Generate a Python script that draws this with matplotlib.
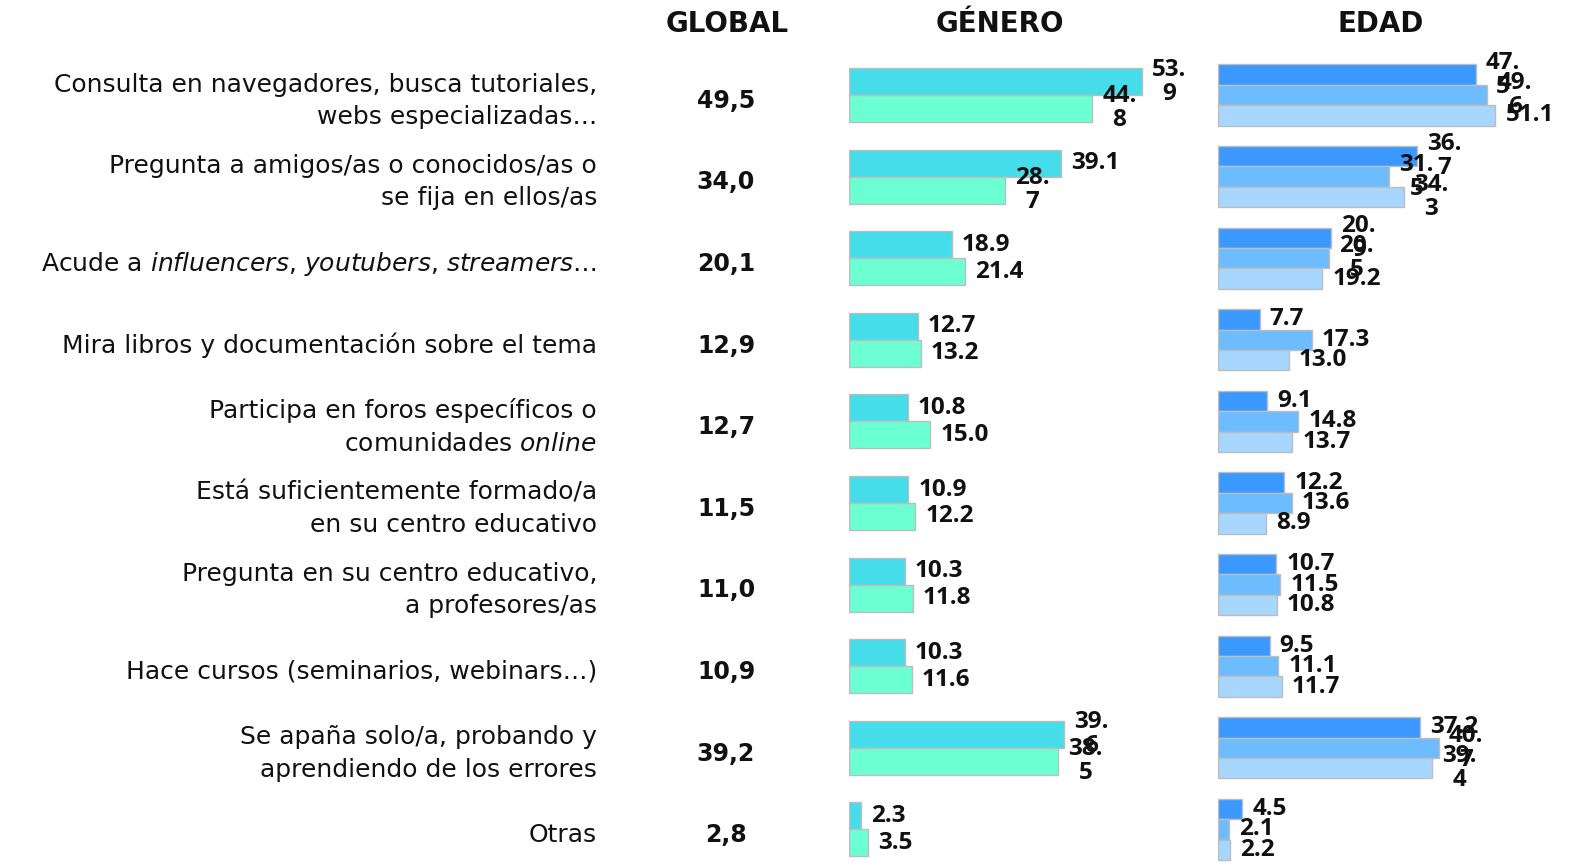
import matplotlib
matplotlib.use("Agg")
import matplotlib.pyplot as plt

plt.rcParams['font.family'] = ['DejaVu Sans']
plt.rcParams['mathtext.fontset'] = 'custom'
plt.rcParams['mathtext.rm'] = 'DejaVu Sans'
plt.rcParams['mathtext.it'] = 'DejaVu Sans:italic'

# Datos
categorias = [
    "Consulta en navegadores, busca tutoriales,\nwebs especializadas…",
    "Pregunta a amigos/as o conocidos/as o\nse fija en ellos/as",
    r"Acude a $\mathit{influencers}$, $\mathit{youtubers}$, $\mathit{streamers}$…",
    "Mira libros y documentación sobre el tema",
    "Participa en foros específicos o\n" + r"comunidades $\mathit{online}$",
    "Está suficientemente formado/a\nen su centro educativo",
    "Pregunta en su centro educativo,\na profesores/as",
    "Hace cursos (seminarios, webinars…)",
    "Se apaña solo/a, probando y\naprendiendo de los errores",
    "Otras",
]
global_vals = ["49,5", "34,0", "20,1", "12,9", "12,7", "11,5", "11,0", "10,9", "39,2", "2,8"]

genero_1 = [53.9, 39.1, 18.9, 12.7, 10.8, 10.9, 10.3, 10.3, 39.6, 2.3]
genero_2 = [44.8, 28.7, 21.4, 13.2, 15.0, 12.2, 11.8, 11.6, 38.5, 3.5]

edad_1 = [47.5, 36.7, 20.9, 7.7, 9.1, 12.2, 10.7, 9.5, 37.2, 4.5]
edad_2 = [49.6, 31.5, 20.5, 17.3, 14.8, 13.6, 11.5, 11.1, 40.7, 2.1]
edad_3 = [51.1, 34.3, 19.2, 13.0, 13.7, 8.9, 10.8, 11.7, 39.4, 2.2]

# etiquetas que aparecen partidas en dos lineas en el original
partidas = {
    'g1': [0, 8], 'g2': [0, 1, 8],
    'e1': [0, 1, 2], 'e2': [0, 1, 2, 8], 'e3': [1, 8],
}

col_g = ['#45DDE9', '#6CFFD2']
col_e = ['#3A98FF', '#6DBCFF', '#A7D7FF']

W, H = 1570, 865
fig = plt.figure(figsize=(W / 100, H / 100), dpi=100)

paso = 81.6          # px entre grupos
y0 = 95              # px centro del primer grupo
ylim = ((H - y0) / paso, -y0 / paso)
escala = 5.43        # px por unidad

ax_t = fig.add_axes([0, 0, 1, 1])
ax_t.set_xlim(0, W)
ax_t.set_ylim(*ylim)
ax_t.axis('off')

ax_g = fig.add_axes([849 / W, 0, 330 / W, 1])
ax_g.set_xlim(0, 330 / escala)
ax_g.set_ylim(*ylim)
ax_g.axis('off')

ax_e = fig.add_axes([1218 / W, 0, 340 / W, 1])
ax_e.set_xlim(0, 340 / escala)
ax_e.set_ylim(*ylim)
ax_e.axis('off')

n = len(categorias)
pos = list(range(n))


def etiqueta(v, partir):
    s = f"{v:.1f}"
    if partir:
        s = s[:3] + "\n" + s[3:]
    return s


def barras(ax, series, colores, claves, alto):
    k = len(series)
    pad = 10 / escala
    for j, (vals, c, clave) in enumerate(zip(series, colores, claves)):
        off = (j - (k - 1) / 2) * alto
        ys = [p + off for p in pos]
        ax.barh(ys, vals, height=alto, color=c, edgecolor='#BDBDBD', linewidth=1)
        for i, (y, v) in enumerate(zip(ys, vals)):
            ax.text(v + pad, y, etiqueta(v, i in partidas[clave]), ha='left', va='center',
                    multialignment='center', fontsize=17.5, fontweight='bold',
                    family='Open Sans', color='#111111', linespacing=1.0, clip_on=False)


barras(ax_g, [genero_1, genero_2], col_g, ['g1', 'g2'], 0.33)
barras(ax_e, [edad_1, edad_2, edad_3], col_e, ['e1', 'e2', 'e3'], 0.25)

for i in pos:
    ax_t.text(597, i + 0.07, categorias[i], ha='right', va='center', fontsize=18,
              color='#111111', linespacing=1.44)
    ax_t.text(726, i + 0.07, global_vals[i], ha='center', va='center', fontsize=17,
              fontweight='bold', color='#111111')

for x, t in [(727, "GLOBAL"), (1000, "GÉNERO"), (1381, "EDAD")]:
    ax_t.text(x, 24 / paso + ylim[1], t, ha='center', va='center', fontsize=20,
              fontweight='bold', color='#111111')

fig.savefig("out.png", dpi=100)
